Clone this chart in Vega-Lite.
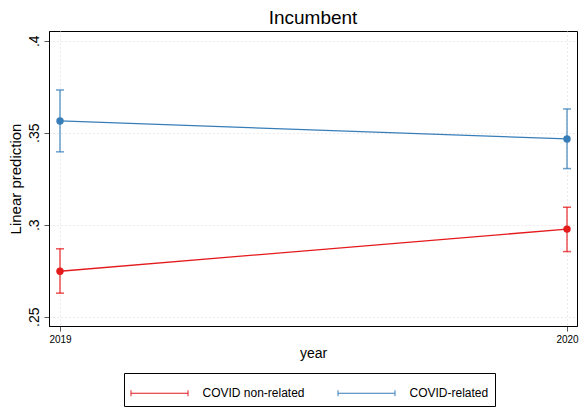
{
  "$schema": "https://vega.github.io/schema/vega-lite/v6.json",
  "width": 528,
  "height": 295,
  "autosize": {"type": "none"},
  "padding": {"left": 49, "top": 31, "right": 4, "bottom": 83},
  "background": "white",
  "title": {"text": "Incumbent", "fontSize": 19, "font": "Liberation Sans", "fontWeight": "normal", "color": "#000", "anchor": "middle", "baseline": "alphabetic", "offset": 6, "dy": 18},
  "data": {"values": [
    {"year": 2019, "group": "COVID non-related", "est": 0.2747, "lo": 0.2628, "hi": 0.2869},
    {"year": 2020, "group": "COVID non-related", "est": 0.2976, "lo": 0.2854, "hi": 0.3095},
    {"year": 2019, "group": "COVID-related", "est": 0.3564, "lo": 0.3396, "hi": 0.3732},
    {"year": 2020, "group": "COVID-related", "est": 0.3466, "lo": 0.3305, "hi": 0.3629}
  ]},
  "encoding": {
    "x": {"field": "year", "type": "quantitative",
      "scale": {"domain": [2018.9783, 2020.0197], "nice": false, "zero": false},
      "axis": {"values": [2019, 2020], "format": "d", "title": "year", "grid": true}},
    "color": {"field": "group", "type": "nominal",
      "scale": {"domain": ["COVID non-related", "COVID-related"], "range": ["#e41a1c", "#377eb8"]},
      "legend": {
        "orient": "none", "legendX": 75, "legendY": 342, "direction": "horizontal", "columns": 2,
        "title": null, "strokeColor": "#000", "padding": 6.5,
        "symbolType": "M-1,-0.23V0.23M-1,0H3.385M3.385,-0.23V0.23",
        "symbolSize": 676, "symbolStrokeWidth": 1, "symbolFillColor": "transparent",
        "labelFontSize": 12, "labelFont": "Liberation Sans", "labelColor": "#000", "labelOffset": 45,
        "columnPadding": 30,
        "encode": {"symbols": {"update": {"stroke": {"scale": "color", "field": "value"}, "fill": {"value": "transparent"}, "strokeWidth": {"value": 1}}}}
      }}
  },
  "layer": [
    {"mark": {"type": "rule", "strokeWidth": 1.5, "opacity": 0.75},
     "encoding": {"y": {"field": "lo", "type": "quantitative", "scale": {"domain": [0.24495, 0.40527], "nice": false, "zero": false},
       "axis": {"values": [0.25, 0.3, 0.35, 0.4], "labelExpr": "substring(format(datum.value, '.2~f'), 1)", "title": "Linear prediction"}},
       "y2": {"field": "hi"}}},
    {"mark": {"type": "tick", "orient": "horizontal", "size": 8, "thickness": 1.5, "opacity": 0.75},
     "encoding": {"y": {"field": "lo", "type": "quantitative"}}},
    {"mark": {"type": "tick", "orient": "horizontal", "size": 8, "thickness": 1.5, "opacity": 0.75},
     "encoding": {"y": {"field": "hi", "type": "quantitative"}}},
    {"mark": {"type": "line", "strokeWidth": 1.3},
     "encoding": {"y": {"field": "est", "type": "quantitative"}}},
    {"mark": {"type": "point", "filled": true, "size": 55, "opacity": 1},
     "encoding": {"y": {"field": "est", "type": "quantitative"}}}
  ],
  "config": {
    "font": "Liberation Sans",
    "view": {"stroke": "#000", "strokeWidth": 1},
    "axis": {
      "domainColor": "#000", "domainWidth": 1,
      "tickColor": "#555", "tickSize": 5, "tickWidth": 1,
      "gridColor": "#d6d6d6", "gridDash": [1, 3], "gridWidth": 1,
      "labelColor": "#000", "titleColor": "#000", "titleFontWeight": "normal",
      "labelFont": "Liberation Sans", "titleFont": "Liberation Sans"
    },
    "axisX": {"labelFontSize": 10, "labelPadding": 3, "titleFontSize": 14, "titlePadding": 2},
    "axisY": {"labelFontSize": 14, "labelAngle": -90, "labelAlign": "center", "labelBaseline": "bottom", "labelPadding": 3, "titleFontSize": 15, "titlePadding": 4}
  }
}
